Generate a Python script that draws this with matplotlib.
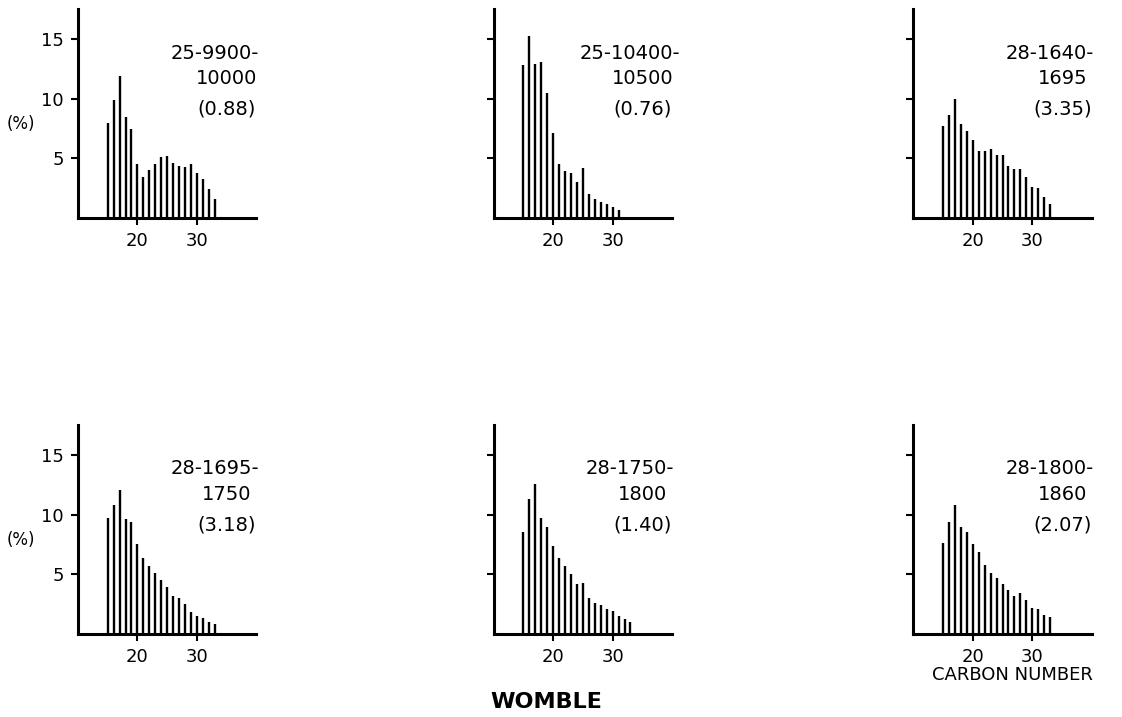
import numpy as np
import matplotlib.pyplot as plt

# carbon numbers
carbon_long = list(range(15, 34))
carbon_short = list(range(15, 32))

# sample labels: (depth interval, value in brackets)
labels = [
    ("25-9900-", "10000", "(0.88)"),
    ("25-10400-", "10500", "(0.76)"),
    ("28-1640-", "1695", "(3.35)"),
    ("28-1695-", "1750", "(3.18)"),
    ("28-1750-", "1800", "(1.40)"),
    ("28-1800-", "1860", "(2.07)"),
]

# percent of total n-alkanes
pct_1 = [8.0, 9.9, 11.9, 8.5, 7.5, 4.5, 3.4, 4.0, 4.5, 5.1, 5.2, 4.6, 4.4, 4.3, 4.5, 3.8, 3.3, 2.4, 1.6]
pct_2 = [12.8, 15.3, 12.9, 13.1, 10.5, 7.1, 4.5, 3.9, 3.8, 3.0, 4.2, 2.0, 1.6, 1.3, 1.2, 0.9, 0.7]
pct_3 = [7.7, 8.6, 10.0, 7.9, 7.3, 6.5, 5.6, 5.6, 5.8, 5.3, 5.3, 4.4, 4.1, 4.1, 3.4, 2.6, 2.5, 1.8, 1.2]
pct_4 = [9.7, 10.8, 12.1, 9.6, 9.4, 7.5, 6.4, 5.7, 5.1, 4.5, 3.9, 3.2, 3.0, 2.5, 1.8, 1.5, 1.3, 1.0, 0.8]
pct_5 = [8.5, 11.3, 12.6, 9.7, 9.0, 7.4, 6.4, 5.7, 5.0, 4.2, 4.3, 3.0, 2.6, 2.4, 2.1, 1.9, 1.5, 1.25, 1.0]
pct_6 = [7.6, 9.4, 10.8, 9.0, 8.5, 7.5, 6.9, 5.8, 5.1, 4.7, 4.2, 3.7, 3.2, 3.4, 2.8, 2.2, 2.1, 1.6, 1.4]

carbons = [carbon_long, carbon_short, carbon_long, carbon_long, carbon_long, carbon_long]
values = [pct_1, pct_2, pct_3, pct_4, pct_5, pct_6]

fig = plt.figure(figsize=(11.22, 7.17), dpi=100)

lefts = [0.0695, 0.440, 0.814]
bottoms = [0.696, 0.116]
w, h = 0.159, 0.291

for i in range(6):
    row, col = divmod(i, 3)
    ax = fig.add_axes([lefts[col], bottoms[row], w, h])
    ax.vlines(carbons[i], 0, values[i], color="black", linewidth=1.7)
    ax.set_xlim(10, 40)
    ax.set_ylim(0, 17.5)
    ax.spines["top"].set_visible(False)
    ax.spines["right"].set_visible(False)
    ax.spines["left"].set_linewidth(2.2)
    ax.spines["bottom"].set_linewidth(2.2)
    ax.set_xticks([20, 30])
    ax.set_yticks([5, 10, 15])
    ax.tick_params(axis="both", direction="out", length=5, width=1.5,
                   labelsize=13, pad=5)
    if col != 0:
        ax.set_yticklabels([])
    else:
        ax.text(-0.32, 0.45, "(%)", transform=ax.transAxes, fontsize=12,
                ha="center", va="center")
    l1, l2, l3 = labels[i]
    ax.text(0.765, 0.79, l1, transform=ax.transAxes, fontsize=14, ha="center", va="center")
    ax.text(0.835, 0.67, l2, transform=ax.transAxes, fontsize=14, ha="center", va="center")
    ax.text(0.835, 0.52, l3, transform=ax.transAxes, fontsize=14, ha="center", va="center")

fig.text(546 / 1122, 1 - 702 / 717, "WOMBLE", fontsize=16, fontweight="bold",
         ha="center", va="center")
fig.text(1012 / 1122, 1 - 675 / 717, "CARBON NUMBER", fontsize=13,
         ha="center", va="center")

fig.savefig("out.png", dpi=100)
